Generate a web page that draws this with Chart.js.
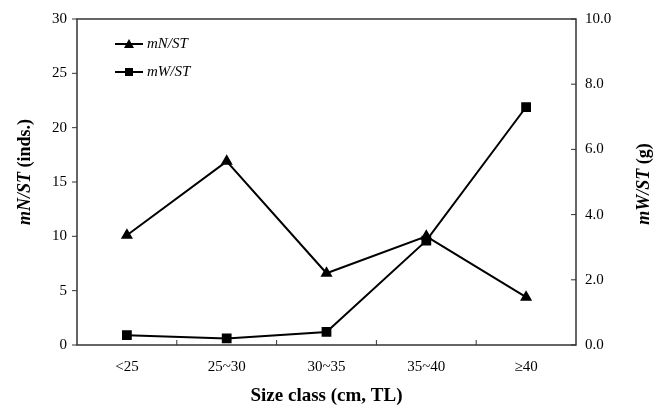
<!DOCTYPE html>
<html><head><meta charset="utf-8">
<script src="https://cdn.jsdelivr.net/npm/chart.js@4/dist/chart.umd.min.js"></script>
<style>html,body{margin:0;padding:0;background:#fff}#wrap{width:658px;height:409px}</style>
</head><body><div id="wrap"><canvas id="c" width="658" height="409"></canvas></div>
<script>
const categories = ["<25", "25~30", "30~35", "35~40", "\u226540"];
const mNST = [10.1, 16.9, 6.6, 10.0, 4.4];
const mWST = [0.3, 0.2, 0.4, 3.2, 7.3];
const leftTicks = [0, 5, 10, 15, 20, 25, 30];
const rightTicks = [0, 2, 4, 6, 8, 10];

const SERIF = "'Liberation Serif','Times New Roman',serif";
const INK = "#000";
const AXIS = "#333";

function mixedText(ctx, parts, x, y, align) {
  let total = 0;
  parts.forEach(p => { ctx.font = p.font; p.w = ctx.measureText(p.t).width; total += p.w; });
  let cx = align === 'center' ? x - total / 2 : x;
  parts.forEach(p => { ctx.font = p.font; ctx.textAlign = 'left'; ctx.fillText(p.t, cx, y); cx += p.w; });
}

const deco = {
  id: 'deco',
  afterDraw(chart) {
    const ctx = chart.ctx, a = chart.chartArea;
    const x = chart.scales.x, y = chart.scales.y, y1 = chart.scales.y1;
    ctx.save();
    ctx.strokeStyle = AXIS; ctx.lineWidth = 1.5;
    ctx.strokeRect(a.left, a.top, a.right - a.left, a.bottom - a.top);
    ctx.lineWidth = 1;
    leftTicks.forEach(v => { const py = y.getPixelForValue(v); ctx.beginPath(); ctx.moveTo(a.left - 5, py); ctx.lineTo(a.left, py); ctx.stroke(); });
    rightTicks.forEach(v => { const py = y1.getPixelForValue(v); ctx.beginPath(); ctx.moveTo(a.right - 5, py); ctx.lineTo(a.right, py); ctx.stroke(); });
    for (let i = 0; i < categories.length - 1; i++) {
      const px = (x.getPixelForValue(i) + x.getPixelForValue(i + 1)) / 2;
      ctx.beginPath(); ctx.moveTo(px, a.bottom); ctx.lineTo(px, a.bottom - 5); ctx.stroke();
    }
    // axis titles
    ctx.fillStyle = INK; ctx.textBaseline = 'middle';
    ctx.save();
    ctx.translate(25, 172);
    ctx.rotate(-Math.PI / 2);
    mixedText(ctx, [{t: 'mN/ST', font: `italic bold 18px ${SERIF}`}, {t: ' (inds.)', font: `bold 18px ${SERIF}`}], 0, 0, 'center');
    ctx.restore();
    ctx.save();
    ctx.translate(644, 184);
    ctx.rotate(-Math.PI / 2);
    mixedText(ctx, [{t: 'mW/ST', font: `italic bold 18px ${SERIF}`}, {t: ' (g)', font: `bold 18px ${SERIF}`}], 0, 0, 'center');
    ctx.restore();
    ctx.font = `bold 19px ${SERIF}`; ctx.textAlign = 'center';
    ctx.fillText('Size class (cm, TL)', (a.left + a.right) / 2, 396);
    // legend
    const ds = chart.data.datasets;
    const ly = [44, 72];
    ds.forEach((d, i) => {
      ctx.strokeStyle = INK; ctx.lineWidth = 2;
      ctx.beginPath(); ctx.moveTo(115, ly[i]); ctx.lineTo(143, ly[i]); ctx.stroke();
      ctx.fillStyle = INK;
      if (d.pointStyle === 'triangle') {
        ctx.beginPath(); ctx.moveTo(129, ly[i] - 5); ctx.lineTo(134, ly[i] + 4); ctx.lineTo(124, ly[i] + 4); ctx.closePath(); ctx.fill();
      } else {
        ctx.fillRect(125, ly[i] - 4, 8, 8);
      }
      ctx.font = `italic 15px ${SERIF}`; ctx.textAlign = 'left'; ctx.textBaseline = 'middle';
      ctx.fillText(d.label, 147, ly[i]);
    });
    ctx.restore();
  }
};

new Chart(document.getElementById('c'), {
  type: 'line',
  data: {
    labels: categories,
    datasets: [
      { label: 'mN/ST', data: mNST, yAxisID: 'y', borderColor: INK, backgroundColor: INK, borderWidth: 2, pointStyle: 'triangle', pointRadius: 5, tension: 0 },
      { label: 'mW/ST', data: mWST, yAxisID: 'y1', borderColor: INK, backgroundColor: INK, borderWidth: 2, pointStyle: 'rect', pointRadius: 5.5, tension: 0 }
    ]
  },
  options: {
    responsive: false, animation: false, devicePixelRatio: 1,
    layout: { padding: { top: 16, left: 0, right: 0, bottom: 0 } },
    plugins: { legend: { display: false }, tooltip: { enabled: false } },
    scales: {
      x: {
        offset: true,
        grid: { display: false, drawTicks: false },
        border: { display: false },
        ticks: { color: INK, font: { family: SERIF, size: 15 }, padding: 13 },
        afterFit(s) { s.height = 64; }
      },
      y: {
        position: 'left', min: 0, max: 30,
        afterBuildTicks(s) { s.ticks = leftTicks.map(v => ({ value: v })); },
        grid: { display: false, drawTicks: false },
        border: { display: false },
        ticks: { color: INK, font: { family: SERIF, size: 15 }, padding: 10 },
        afterFit(s) { s.width = 77; }
      },
      y1: {
        position: 'right', min: 0, max: 10,
        afterBuildTicks(s) { s.ticks = rightTicks.map(v => ({ value: v })); },
        grid: { display: false, drawTicks: false },
        border: { display: false },
        ticks: { color: INK, font: { family: SERIF, size: 15 }, padding: 9, callback: v => Number(v).toFixed(1) },
        afterFit(s) { s.width = 82; }
      }
    }
  },
  plugins: [deco]
});
</script></body></html>
